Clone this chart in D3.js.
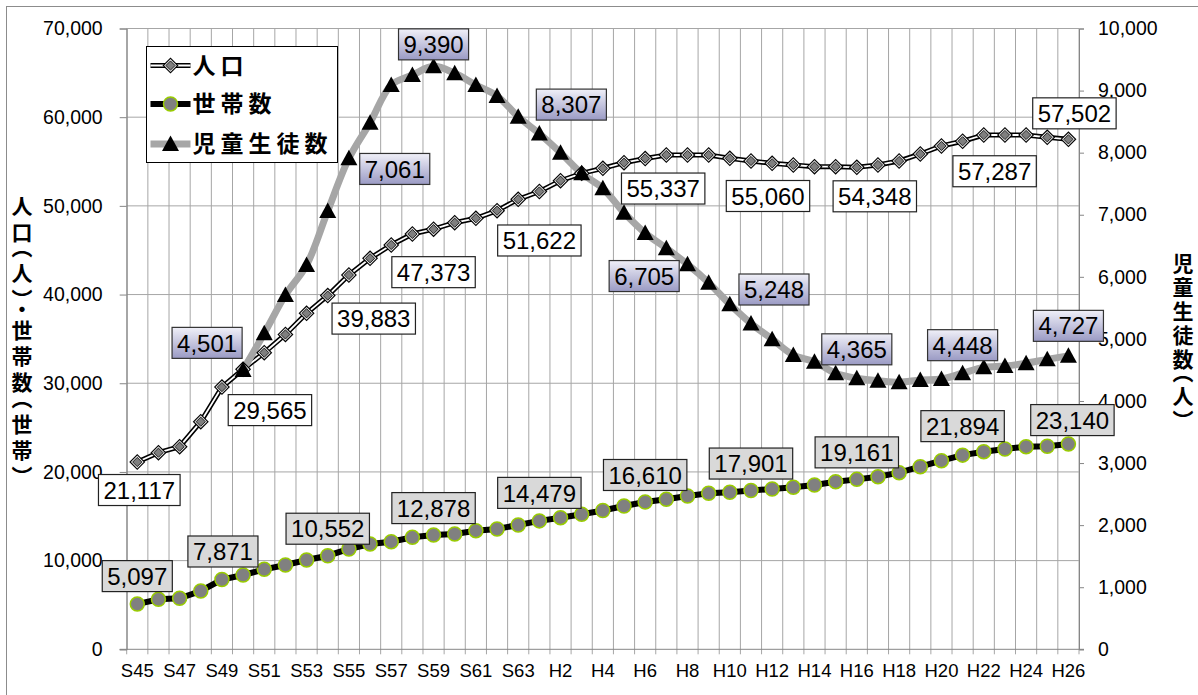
<!DOCTYPE html>
<html>
<head>
<meta charset="utf-8">
<script src="https://cdn.jsdelivr.net/npm/d3@7"></script>
<style>
  body { margin: 0; background: #fff; }
  svg { display: block; }
  text { font-family: "Liberation Sans", Arial, sans-serif; }
  .jp { font-family: "Noto Sans CJK JP", sans-serif; font-weight: bold; }
  .vtitle { writing-mode: vertical-rl; font-feature-settings: "vhal" 1; }
</style>
</head>
<body>
<svg id="chart" width="1198" height="695"></svg>
<script>
// years: S45..S63, H1..H26
const categories = [
  "S45","S46","S47","S48","S49","S50","S51","S52","S53","S54",
  "S55","S56","S57","S58","S59","S60","S61","S62","S63",
  "H1","H2","H3","H4","H5","H6","H7","H8","H9","H10",
  "H11","H12","H13","H14","H15","H16","H17","H18","H19","H20",
  "H21","H22","H23","H24","H25","H26"
];

// 人口
const population = [
  21117, 22168, 22845, 25664, 29565, 31573, 33445, 35500, 37887, 39883,
  42206, 44089, 45589, 46830, 47373, 48104, 48600, 49457, 50742, 51622,
  52839, 53674, 54238, 54869, 55337, 55738, 55738, 55738, 55365, 55060,
  54800, 54611, 54417, 54417, 54348, 54611, 55060, 55851, 56753, 57287,
  57993, 57993, 57993, 57730, 57502
];

// 世帯数
const households = [
  5097, 5638, 5751, 6574, 7871, 8378, 9021, 9506, 10070, 10552,
  11310, 11873, 12133, 12629, 12878, 13001, 13373, 13565, 14016, 14479,
  14839, 15222, 15650, 16158, 16610, 16914, 17286, 17590, 17703, 17901,
  18075, 18267, 18526, 18899, 19161, 19462, 19913, 20590, 21267, 21894,
  22281, 22586, 22845, 22900, 23140
];

// 児童生徒数 (no data before S50)
const students = [
  null, null, null, null, null, 4501, 5090, 5707, 6190, 7061,
  7909, 8483, 9090, 9251, 9390, 9278, 9090, 8913, 8579, 8307,
  7999, 7667, 7426, 7033, 6705, 6459, 6202, 5905, 5557, 5248,
  4996, 4740, 4633, 4446, 4365, 4327, 4301, 4338, 4354, 4448,
  4542, 4563, 4607, 4671, 4727
];

const leftTicks = [0, 10000, 20000, 30000, 40000, 50000, 60000, 70000];
const rightTicks = [0, 1000, 2000, 3000, 4000, 5000, 6000, 7000, 8000, 9000, 10000];

// which points carry a data label
const popLabelIdx = [0, 4, 9, 14, 19, 24, 29, 34, 39, 44];
const hhLabelIdx = [0, 4, 9, 14, 19, 24, 29, 34, 39, 44];
const stuLabelIdx = [5, 9, 14, 19, 24, 29, 34, 39, 44];

// hand placed label boxes (offset of box centre from the point)
const popNudge = [[2,28],[48,23],[46,23],[0,43],[0,49],[18,30],[17,35],[18,29],[32,30],[6,-26]];
const hhNudge = [[0,-28],[1,-28],[0,-27],[0,-27],[0,-28],[0,-27],[0,-27],[0,-27],[0,-29],[4,-24]];
const stuNudge = [[-36,-27],[67,-42],[0,-22],[32,-29],[-1,43],[23,-34],[0,-29],[0,-28],[0,-30]];

const svg = d3.select("#chart");

// outer frame
svg.append("rect")
    .attr("x", 6.5).attr("y", 6.5)
    .attr("width", 1200).attr("height", 700)
    .attr("fill", "#fff").attr("stroke", "#8c8c8c");

const plotL = 126.7, plotR = 1079, plotT = 28.5, plotB = 649.3;

const x = d3.scaleBand().domain(categories).range([plotL, plotR]);
const yL = d3.scaleLinear().domain([0, 70000]).range([plotB, plotT]);
const yR = d3.scaleLinear().domain([0, 10000]).range([plotB, plotT]);
const cx = i => x(categories[i]) + x.bandwidth() / 2;

// grid
const grid = svg.append("g").attr("stroke", "#a6a6a6").attr("stroke-width", 1);
grid.selectAll("line.h").data(leftTicks.slice(1)).enter().append("line")
    .attr("x1", plotL).attr("x2", plotR)
    .attr("y1", d => yL(d)).attr("y2", d => yL(d));
grid.selectAll("line.v").data(d3.range(categories.length + 1)).enter().append("line")
    .attr("x1", i => plotL + i * x.step()).attr("x2", i => plotL + i * x.step())
    .attr("y1", plotT).attr("y2", plotB + 5);

// axes
const axisL = svg.append("g").attr("transform", `translate(${plotL},0)`)
    .call(d3.axisLeft(yL).tickValues(leftTicks).tickSize(7).tickPadding(17).tickFormat(d3.format(",")));
const axisR = svg.append("g").attr("transform", `translate(${plotR},0)`)
    .call(d3.axisRight(yR).tickValues(rightTicks).tickSize(5).tickPadding(14).tickFormat(d3.format(",")));
const axisB = svg.append("g").attr("transform", `translate(0,${plotB})`)
    .call(d3.axisBottom(x).tickValues(categories.filter((c, i) => i % 2 === 0)).tickSize(0).tickPadding(15));

[axisL, axisR, axisB].forEach(a => {
    a.selectAll("path.domain").attr("stroke", "#868686");
    a.selectAll(".tick line").attr("stroke", "#868686");
    a.selectAll("text").attr("fill", "#000")
        .style("font-family", "'Liberation Sans', Arial, sans-serif");
});
axisL.selectAll("text").attr("font-size", 19.5);
axisR.selectAll("text").attr("font-size", 19.5);
axisB.selectAll("text").attr("font-size", 18.5);
axisB.select("path.domain").attr("d", `M${plotL - 7},0H${plotR + 5}`);

// lines
const lineL = d3.line().x((d, i) => cx(i)).y(d => yL(d));
const lineS = d3.line().defined(d => d !== null).x((d, i) => cx(i)).y(d => yR(d))
    .curve(d3.curveCatmullRom.alpha(0.5));

svg.append("path").attr("d", lineL(households))
    .attr("fill", "none").attr("stroke", "#000").attr("stroke-width", 6);
svg.append("path").attr("d", lineL(population))
    .attr("fill", "none").attr("stroke", "#000").attr("stroke-width", 5);
svg.append("path").attr("d", lineL(population))
    .attr("fill", "none").attr("stroke", "#fff").attr("stroke-width", 1.8);
svg.append("path").attr("d", lineS(students))
    .attr("fill", "none").attr("stroke", "#a6a6a6").attr("stroke-width", 7);

function diamond(g, r) {
    g.append("path").attr("d", `M0,${-r}L${r},0L0,${r}L${-r},0Z`).attr("fill", "#000");
    g.append("path").attr("d", `M0,${-r + 1.6}L${r - 1.6},0L0,${r - 1.6}L${-r + 1.6},0Z`).attr("fill", "#e6e6e6");
    g.append("path").attr("d", `M0,${-r + 3.4}L${r - 3.4},0L0,${r - 3.4}L${-r + 3.4},0Z`)
        .attr("fill", "#7f7f7f").attr("stroke", "#000").attr("stroke-width", 0.8);
}
function circle(g) {
    g.append("circle").attr("r", 7).attr("fill", "#808080")
        .attr("stroke", "#99cc00").attr("stroke-width", 1.5);
}
function triangle(g) {
    g.append("path").attr("d", "M0,-8.5L8.5,7L-8.5,7Z").attr("fill", "#000");
}

// markers
svg.append("g").selectAll("g").data(households).enter().append("g")
    .attr("transform", (d, i) => `translate(${cx(i)},${yL(d)})`)
    .each(function() { circle(d3.select(this)); });
svg.append("g").selectAll("g").data(population).enter().append("g")
    .attr("transform", (d, i) => `translate(${cx(i)},${yL(d)})`)
    .each(function() { diamond(d3.select(this), 8); });
svg.append("g").selectAll("g")
    .data(students.map((v, i) => ({v, i})).filter(d => d.v !== null)).enter().append("g")
    .attr("transform", d => `translate(${cx(d.i)},${yR(d.v)})`)
    .each(function() { triangle(d3.select(this)); });

// label gradient for 児童生徒数
const defs = svg.append("defs");
const grad = defs.append("linearGradient").attr("id", "stuGrad")
    .attr("x1", 0).attr("y1", 0).attr("x2", 0).attr("y2", 1);
grad.append("stop").attr("offset", "0%").attr("stop-color", "#f0f0f8");
grad.append("stop").attr("offset", "100%").attr("stop-color", "#9a9ac4");

function dataLabels(values, idx, nudge, scale, fill, stroke) {
    const fmt = d3.format(",");
    idx.forEach((i, k) => {
        const px = cx(i) + nudge[k][0];
        const py = scale(values[i]) + nudge[k][1];
        const g = svg.append("g").attr("transform", `translate(${px},${py})`);
        const rect = g.append("rect").attr("fill", fill).attr("stroke", stroke).attr("stroke-width", 1.2);
        const t = g.append("text").text(fmt(values[i]))
            .attr("text-anchor", "middle").attr("dy", "0.36em")
            .attr("font-size", 24).attr("fill", "#000");
        const w = t.node().getComputedTextLength() + 10;
        rect.attr("x", -w / 2).attr("y", -15.5).attr("width", w).attr("height", 31);
    });
}
dataLabels(population, popLabelIdx, popNudge, yL, "#fff", "#222");
dataLabels(households, hhLabelIdx, hhNudge, yL, "#d9d9d9", "#222");
dataLabels(students, stuLabelIdx, stuNudge, yR, "url(#stuGrad)", "#333");

// legend
const legend = svg.append("g").attr("transform", "translate(146.5,46.5)");
legend.append("rect").attr("width", 191).attr("height", 116)
    .attr("fill", "#fff").attr("stroke", "#000");
const legendItems = ["人口", "世帯数", "児童生徒数"];
const rowY = [19, 57.5, 97.5];
legendItems.forEach((name, k) => {
    const g = legend.append("g").attr("transform", `translate(0,${rowY[k]})`);
    if (k === 0) {
        g.append("line").attr("x1", 4).attr("x2", 44).attr("stroke", "#000").attr("stroke-width", 5);
        g.append("line").attr("x1", 4).attr("x2", 44).attr("stroke", "#fff").attr("stroke-width", 1.8);
        diamond(g.append("g").attr("transform", "translate(24,0)"), 8);
    } else if (k === 1) {
        g.append("line").attr("x1", 4).attr("x2", 44).attr("stroke", "#000").attr("stroke-width", 6);
        circle(g.append("g").attr("transform", "translate(24,0)"));
    } else {
        g.append("line").attr("x1", 4).attr("x2", 44).attr("stroke", "#a6a6a6").attr("stroke-width", 7);
        triangle(g.append("g").attr("transform", "translate(24,0)"));
    }
    g.append("text").attr("class", "jp").attr("x", 46).attr("dy", "0.36em")
        .attr("font-size", 23).attr("letter-spacing", 5).text(name);
});

// axis titles
svg.append("text").attr("class", "jp vtitle")
    .attr("x", 22).attr("y", 338)
    .attr("text-anchor", "middle").attr("font-size", 21).attr("letter-spacing", 5)
    .text("人口（人）・世帯数（世帯）");
svg.append("text").attr("class", "jp vtitle")
    .attr("x", 1183).attr("y", 338)
    .attr("text-anchor", "middle").attr("font-size", 21).attr("letter-spacing", 3)
    .text("児童生徒数（人）");
</script>
</body>
</html>
